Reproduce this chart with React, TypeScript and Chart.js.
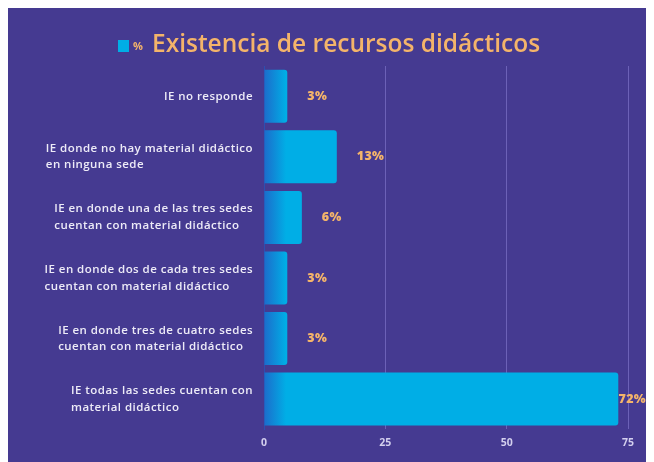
import React, { useEffect, useRef } from "react";
import { Chart, registerables } from "chart.js";

Chart.register(...registerables);

const categories: string[][] = [
  ["IE no responde"],
  ["IE donde no hay material didáctico", "en ninguna sede"],
  ["IE en donde una de las tres sedes", "cuentan con material didáctico"],
  ["IE en donde dos de cada tres sedes", "cuentan con material didáctico"],
  ["IE en donde tres de cuatro sedes", "cuentan con material didáctico"],
  ["IE todas las sedes cuentan con", "material didáctico"],
];
// bar lengths as drawn in the picture
const barValues: number[] = [4.8, 15, 7.8, 4.8, 4.8, 73];
// value labels printed next to bars
const valueLabels: string[] = ["3%", "13%", "6%", "3%", "3%", "72%"];
const seriesName = "%";
const chartTitle = "Existencia de recursos didácticos";
const xTicks: number[] = [0, 25, 50, 75];

const BG = "#453A91";
const CYAN = "#00AEE6";
const ORANGE = "#F4B46A";
const FONT = "'Open Sans', sans-serif";

export default function App() {
  const ref = useRef<HTMLCanvasElement | null>(null);

  useEffect(() => {
    if (!ref.current) return;

    const headerPlugin = {
      id: "header",
      afterDraw(chart: any) {
        const ctx = chart.ctx;
        ctx.save();
        ctx.fillStyle = CYAN;
        ctx.fillRect(110, 32, 11, 12);
        ctx.fillStyle = ORANGE;
        ctx.font = `700 11px ${FONT}`;
        ctx.textBaseline = "middle";
        ctx.textAlign = "left";
        ctx.fillText(seriesName, 125, 39);
        ctx.font = `600 24.5px ${FONT}`;
        ctx.fillText(chartTitle, 144, 37);
        ctx.restore();
      },
    };

    const yLabelPlugin = {
      id: "ylabels",
      afterDraw(chart: any) {
        const ctx = chart.ctx;
        const yScale = chart.scales.y;
        const right = 245;
        const lh = 16.5;
        ctx.save();
        ctx.fillStyle = "#EDEBF7";
        ctx.font = `600 11.5px ${FONT}`;
        (ctx as any).letterSpacing = "0.45px";
        ctx.textBaseline = "middle";
        ctx.textAlign = "left";
        categories.forEach((lines, i) => {
          const y = yScale.getPixelForValue(i);
          const maxW = Math.max(...lines.map((l) => ctx.measureText(l).width));
          const left = right - maxW;
          const y0 = y - ((lines.length - 1) * lh) / 2;
          lines.forEach((l, j) => ctx.fillText(l, left, y0 + j * lh));
        });
        ctx.restore();
      },
    };

    const valuePlugin = {
      id: "values",
      afterDatasetsDraw(chart: any) {
        const ctx = chart.ctx;
        const meta = chart.getDatasetMeta(0);
        ctx.save();
        ctx.fillStyle = ORANGE;
        ctx.font = `800 12.5px ${FONT}`;
        (ctx as any).letterSpacing = "0.3px";
        ctx.textBaseline = "middle";
        ctx.textAlign = "left";
        meta.data.forEach((bar: any, i: number) => {
          const t = valueLabels[i];
          const w = ctx.measureText(t).width;
          let x = bar.x + 20;
          if (x + w > chart.width - 4) x = chart.width - 4 - w;
          ctx.fillText(t, x, bar.y);
        });
        ctx.restore();
      },
    };

    const chart = new Chart(ref.current, {
      type: "bar",
      data: {
        labels: categories.map((c) => c.join(" ")),
        datasets: [
          {
            label: seriesName,
            data: barValues,
            backgroundColor: (context: any) => {
              const c = context.chart;
              const area = c.chartArea;
              if (!area) return CYAN;
              const g = c.ctx.createLinearGradient(area.left, 0, area.left + 22, 0);
              g.addColorStop(0, "#1C6CCB");
              g.addColorStop(1, CYAN);
              return g;
            },
            borderRadius: 3,
            borderSkipped: "start",
            categoryPercentage: 1,
            barPercentage: 0.875,
          },
        ],
      },
      options: {
        indexAxis: "y",
        animation: false,
        responsive: false,
        maintainAspectRatio: false,
        layout: { padding: { left: 8, right: 22, top: 58, bottom: 6 } },
        plugins: {
          legend: { display: false },
          tooltip: { enabled: false },
          title: { display: false },
        },
        scales: {
          x: {
            min: 0,
            max: 75,
            afterBuildTicks: (scale: any) => {
              scale.ticks = xTicks.map((v) => ({ value: v }));
            },
            ticks: {
              color: "#D3CFEE",
              font: { family: FONT, size: 10.5, weight: "bold" },
              padding: 7,
            },
            grid: {
              color: (c: any) => (c.tick && c.tick.value === 0 ? "rgba(0,0,0,0)" : "rgba(140,130,215,0.55)"),
              drawTicks: false,
            },
            border: { display: false },
          },
          y: {
            ticks: { display: false },
            grid: { display: false },
            border: { display: true, color: "#2C4FB0", width: 1 },
            afterFit: (scale: any) => {
              scale.width = 248;
            },
          },
        },
      },
      plugins: [headerPlugin, yLabelPlugin, valuePlugin],
    } as any);

    return () => chart.destroy();
  }, []);

  return (
    <div style={{ width: 642, height: 454, background: BG }}>
      <canvas ref={ref} width={642} height={454} style={{ display: "block" }} />
    </div>
  );
}
